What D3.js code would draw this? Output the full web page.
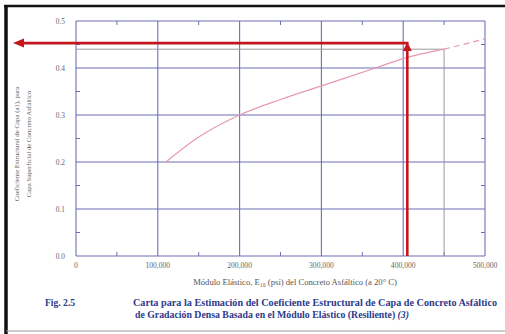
<!DOCTYPE html>
<html><head><meta charset="utf-8">
<script src="https://cdn.jsdelivr.net/npm/d3@7"></script>
<style>body{margin:0;background:#fff}svg{display:block}text{font-family:"Liberation Serif","Times New Roman",serif}</style>
</head><body>
<svg id="c" width="505" height="334"></svg>
<script>
// Data
const xTicks = [0, 100000, 200000, 300000, 400000, 500000];
const xTickLabels = ["0", "100,000", "200,000", "300,000", "400,000", "500,000"];
const yTicks = [0, 0.1, 0.2, 0.3, 0.4, 0.5];
const yTickLabels = ["0.0", "0.1", "0.2", "0.3", "0.4", "0.5"];
const curveE = [110000, 150000, 200000, 250000, 300000, 366000, 400000, 450000];
const curveA = [0.2, 0.253, 0.3, 0.333, 0.362, 0.4, 0.42, 0.44];
const dashE = [450000, 500000];
const dashA = [0.44, 0.462];
const refE = 450000, refA = 0.44;
const readE = 405000, readA = 0.453;

const svg = d3.select("#c");
const x = d3.scaleLinear().domain([0, 500000]).range([76, 485]);
const y = d3.scaleLinear().domain([0, 0.5]).range([256, 21]);
const grid = "#6f6fb8";

// frame of the figure
svg.append("line").attr("x1",6).attr("x2",6).attr("y1",5).attr("y2",334).attr("stroke","#111").attr("stroke-width",3.5);
svg.append("line").attr("x1",4).attr("x2",505).attr("y1",6).attr("y2",6).attr("stroke","#111").attr("stroke-width",2.5);
svg.append("line").attr("x1",6).attr("x2",505).attr("y1",331).attr("y2",331).attr("stroke","#999").attr("stroke-width",1.2);

// gridlines
const g = svg.append("g");
g.selectAll(".vx").data(xTicks).join("line").attr("x1",d=>x(d)).attr("x2",d=>x(d)).attr("y1",y(0)).attr("y2",y(0.5)).attr("stroke",grid).attr("stroke-width",1.1);
g.selectAll(".hy").data(yTicks).join("line").attr("x1",x(0)).attr("x2",x(500000)).attr("y1",d=>y(d)).attr("y2",d=>y(d)).attr("stroke",grid).attr("stroke-width",1.1);

// minor ticks
const mx = d3.range(50000, 500000, 100000);
const my = d3.range(0.05, 0.5, 0.1);
g.selectAll(".mxb").data(mx).join("line").attr("x1",d=>x(d)).attr("x2",d=>x(d)).attr("y1",y(0)).attr("y2",y(0)-4).attr("stroke",grid);
g.selectAll(".mxt").data(mx).join("line").attr("x1",d=>x(d)).attr("x2",d=>x(d)).attr("y1",y(0.5)).attr("y2",y(0.5)+4).attr("stroke",grid);
g.selectAll(".myl").data(my).join("line").attr("x1",x(0)).attr("x2",x(0)+4).attr("y1",d=>y(d)).attr("y2",d=>y(d)).attr("stroke",grid);
g.selectAll(".myr").data(my).join("line").attr("x1",x(500000)).attr("x2",x(500000)-4).attr("y1",d=>y(d)).attr("y2",d=>y(d)).attr("stroke",grid);

// tick labels
svg.selectAll(".xl").data(xTicks).join("text").attr("x",d=>x(d)).attr("y",267.5).attr("text-anchor","middle").attr("font-size",7.6).attr("fill","#666").text((d,i)=>xTickLabels[i]);
svg.selectAll(".yl").data(yTicks).join("text").attr("x",65).attr("y",d=>y(d)+2.5).attr("text-anchor","end").attr("font-size",7.4).attr("fill","#666").text((d,i)=>yTickLabels[i]);

// gray reference lines
svg.append("line").attr("x1",x(refE)).attr("x2",x(refE)).attr("y1",y(0)).attr("y2",y(refA)).attr("stroke","#9a9a9a").attr("stroke-width",1);
svg.append("line").attr("x1",x(0)).attr("x2",x(refE)).attr("y1",y(refA)).attr("y2",y(refA)).attr("stroke","#9a9a9a").attr("stroke-width",1);

// curve
const line = d3.line().x(d=>x(d[0])).y(d=>y(d[1])).curve(d3.curveMonotoneX);
svg.append("path").attr("d",line(curveE.map((e,i)=>[e,curveA[i]]))).attr("fill","none").attr("stroke","#e59aac").attr("stroke-width",1.2);
svg.append("path").attr("d",line(dashE.map((e,i)=>[e,dashA[i]]))).attr("fill","none").attr("stroke","#e59aac").attr("stroke-width",1.2).attr("stroke-dasharray","6,4");

// red reading arrows
const red = "#c4161c";
const rx = x(readE), ry = y(readA);
svg.append("path").attr("d",`M${rx},${y(0)}V${ry+6}`).attr("stroke",red).attr("stroke-width",2.6).attr("fill","none");
svg.append("path").attr("d",`M${rx-4.5},${ry+8}L${rx},${ry-1}L${rx+4.5},${ry+8}Z`).attr("fill",red);
svg.append("path").attr("d",`M${rx+1.3},${ry}H${22}`).attr("stroke",red).attr("stroke-width",2.6).attr("fill","none");
svg.append("path").attr("d",`M${24},${ry-4.5}L${13},${ry}L${24},${ry+4.5}Z`).attr("fill",red);

// axis titles
const yt = svg.append("text").attr("transform","translate(19,144) rotate(-90)").attr("text-anchor","middle").attr("font-size",6.8).attr("fill","#666");
yt.append("tspan").attr("x",0).attr("dy",0).text("Coeficiente Estructural de Capa (a1), para");
yt.append("tspan").attr("x",0).attr("dy",12).text("Capa Superficial de Concreto Asfáltico");
svg.append("text").attr("x",295).attr("y",285).attr("text-anchor","middle").attr("font-size",8.6).attr("fill","#555")
  .text("Módulo Elástico, E\u2081\u2080 (psi) del Concreto Asfáltico (a 20° C)");

// caption
const blue = "#2c3a8c";
svg.append("text").attr("x",45).attr("y",306).attr("font-size",9.6).attr("font-weight","bold").attr("fill",blue).text("Fig. 2.5");
svg.append("text").attr("x",133).attr("y",306).attr("font-size",9.8).attr("font-weight","bold").attr("fill",blue)
  .attr("textLength",364).attr("lengthAdjust","spacingAndGlyphs")
  .text("Carta para la Estimación del Coeficiente Estructural de Capa de Concreto Asfáltico");
const c2 = svg.append("text").attr("x",135).attr("y",318).attr("font-size",9.8).attr("font-weight","bold").attr("fill",blue)
  .text("de Gradación Densa Basada en el Módulo Elástico (Resiliente) ");
c2.append("tspan").attr("font-style","italic").text("(3)");
</script>
</body></html>
